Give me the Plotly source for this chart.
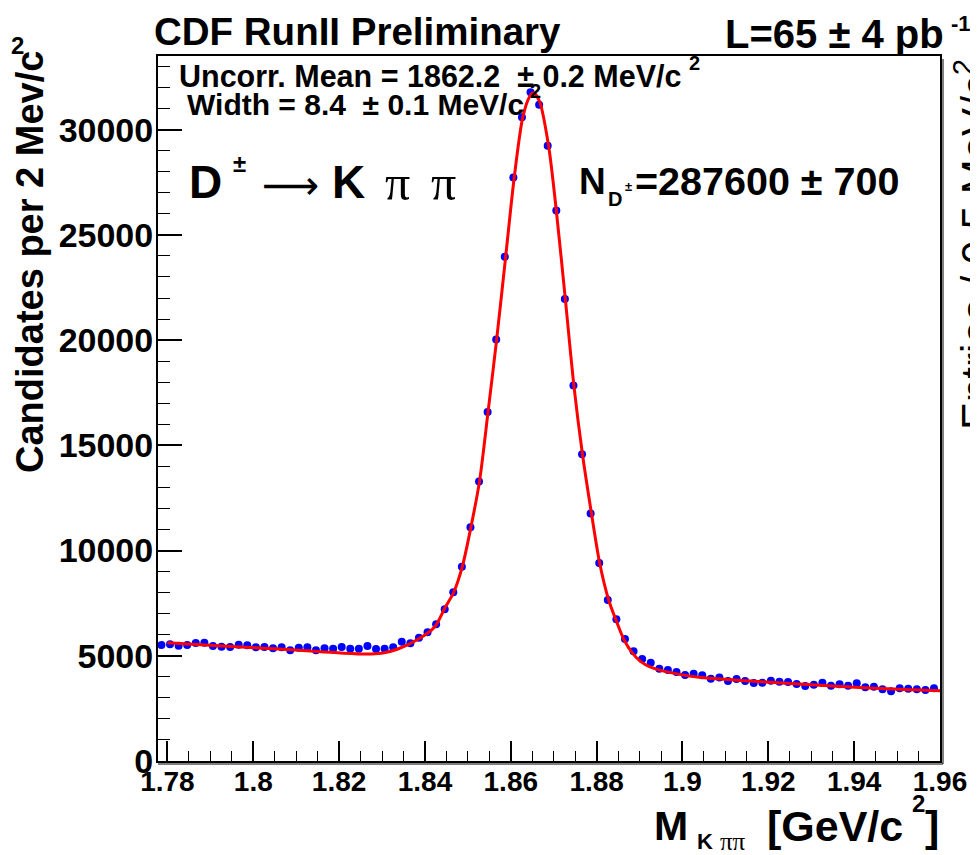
import plotly.graph_objects as go

# ---------------- data ----------------
bin_start = 1.7786
bin_width = 0.002
counts = [5513, 5545, 5482, 5513, 5609, 5624, 5466, 5434, 5418, 5529,
          5497, 5402, 5418, 5355, 5402, 5260, 5387, 5402, 5260, 5355,
          5339, 5418, 5339, 5339, 5466, 5323, 5339, 5402, 5672, 5593,
          5862, 6115, 6496, 7210, 8018, 9236, 11106, 13276, 16588, 20025,
          23955, 27726, 30594, 31782, 31180, 29231, 26157, 21959, 17840, 14576,
          11756, 9411, 7652, 6734, 5799, 5212, 4848, 4674, 4388, 4325,
          4230, 4088, 4151, 4072, 3914, 3962, 3802, 3897, 3802, 3707,
          3723, 3818, 3770, 3755, 3660, 3565, 3628, 3723, 3581, 3644,
          3581, 3692, 3502, 3533, 3407, 3311, 3454, 3438, 3407, 3375,
          3454]
mass = [round(bin_start + bin_width * i, 4) for i in range(len(counts))]

fit_x = [1.7800, 1.7888, 1.8004, 1.8159, 1.8252, 1.8299, 1.8337, 1.8384, 1.8423,
         1.8446, 1.8467, 1.8487, 1.8507, 1.8527, 1.8547, 1.8567, 1.8588, 1.8608,
         1.8628, 1.8644, 1.8653, 1.8667, 1.8688, 1.8706, 1.8727, 1.8747, 1.8767,
         1.8788, 1.8807, 1.8828, 1.8845, 1.8864, 1.8884, 1.8903, 1.8923, 1.8961,
         1.9039, 1.9194, 1.9349, 1.9504, 1.9600]
fit_y = [5620, 5513, 5387, 5197, 5086, 5118, 5323, 5784, 6384,
         7258, 8018, 9236, 11106, 13276, 16588, 20025, 23955, 27726,
         30594, 31575, 31750, 31337, 29231, 26157, 21959, 17840, 14576,
         11756, 9411, 7652, 6702, 5751, 5117, 4721, 4484, 4246,
         3977, 3755, 3565, 3407, 3340]

x_tick_vals = [1.78, 1.80, 1.82, 1.84, 1.86, 1.88, 1.90, 1.92, 1.94, 1.96]
x_tick_text = ["1.78", "1.8", "1.82", "1.84", "1.86", "1.88", "1.9", "1.92", "1.94", "1.96"]
y_tick_vals = [0, 5000, 10000, 15000, 20000, 25000, 30000]
y_tick_text = ["0", "5000", "10000", "15000", "20000", "25000", "30000"]

# ---------------- layout geometry (page pixels) ----------------
PAGE_OFF = 8               # default body margin of the html page
W, H = 978 - PAGE_OFF, 855 - PAGE_OFF
L_, R_, T_, B_ = 158, 940, 56, 761


def px(xp):
    return (xp - L_) / (R_ - L_)


def py(yp):
    return (B_ - yp) / (B_ - T_)


SANS = "Liberation Sans, Arial, Helvetica, sans-serif"
SERIF = "Liberation Serif, Times New Roman, serif"
DJV = "DejaVu Sans, sans-serif"

fig = go.Figure()
fig.add_trace(go.Scatter(x=mass, y=counts, mode="markers",
                         marker=dict(color="#0000ff", size=8, line=dict(width=0)),
                         showlegend=False))
fig.add_trace(go.Scatter(x=fit_x, y=fit_y, mode="lines",
                         line=dict(color="#ff0000", width=3, shape="spline", smoothing=0.8),
                         showlegend=False))

ann = []


def add(text, x, y, size, xanchor="left", yanchor="middle", family=SANS, angle=0):
    ann.append(dict(text=text, x=px(x), y=py(y), xref="paper", yref="paper",
                    xanchor=xanchor, yanchor=yanchor, showarrow=False,
                    textangle=angle, font=dict(family=family, size=size, color="black")))


nb = "\u00a0"
add("<b>CDF RunII Preliminary</b>", 152, 31, 38.5)
add("<b>L=65 ± 4 pb</b>", 946, 34, 40, xanchor="right")
add("<b>-1</b>", 961, 24, 22, xanchor="center")
add("<b>Uncorr. Mean = 1862.2" + nb + nb + "± 0.2 MeV/c</b>", 177, 76, 30.5)
add("<b>2</b>", 694, 63, 20, xanchor="center")
add("<b>Width = 8.4" + nb + nb + "± 0.1 MeV/c</b>", 185, 104, 30)
add("<b>2</b>", 535, 91, 20, xanchor="center")

add("<b>D</b>", 187, 182, 46)
add("<b>±</b>", 239, 163, 24, xanchor="center")
add("⟶", 290, 185, 40, xanchor="center", family=DJV)
add("<b>K</b>", 330, 182, 46)
add("π", 397, 183, 50, xanchor="center", family=SERIF)
add("π", 443, 183, 50, xanchor="center", family=SERIF)

add("<b>N</b>", 577, 181, 37)
add("<b>D</b>", 615, 199, 20, xanchor="center")
add("<b>±</b>", 628, 186, 13, xanchor="center")
add("<b>=287600" + nb + "±" + nb + "700</b>", 633, 181, 39.5)

add("<b>M</b>", 652, 826, 41)
add("<b>K</b>", 705, 841, 22, xanchor="center")
add("ππ", 733, 841, 25, xanchor="center", family=SERIF)
add("<b>[GeV/c</b>", 765, 826, 43)
add("<b>2</b>", 918, 803, 24, xanchor="center")
add("<b>]</b>", 923, 826, 43)

add("<b>Candidates per 2 Mev/c</b>", 30, 262, 38, xanchor="center", angle=-90)
add("<b>2</b>", 17, 46, 24, xanchor="center")

add("Entries / 0.5 MeV/c<sup>2</sup>", 944, 245, 42, xanchor="left", angle=-90)

axis_common = dict(showgrid=False, zeroline=False, showline=True, linecolor="black",
                   linewidth=2, mirror=True, ticks="inside", tickcolor="black",
                   tickwidth=1.5)

# thin shadow lines under the frame (bottom and right), as in the ROOT canvas
shapes = [
    dict(type="line", xref="paper", yref="paper", x0=px(L_), x1=px(R_ + 3),
         y0=py(B_ + 3), y1=py(B_ + 3), line=dict(color="black", width=1)),
    dict(type="line", xref="paper", yref="paper", x0=px(R_ + 3), x1=px(R_ + 3),
         y0=py(B_ + 3), y1=py(T_ + 3), line=dict(color="black", width=1)),
]

fig.update_layout(
    width=W, height=H,
    margin=dict(l=L_ - PAGE_OFF, r=W - (R_ - PAGE_OFF), t=T_ - PAGE_OFF,
                b=H - (B_ - PAGE_OFF), pad=0),
    paper_bgcolor="white", plot_bgcolor="white",
    font=dict(family=SANS, color="black"),
    annotations=ann,
    shapes=shapes,
    xaxis=dict(range=[1.7778, 1.9600], tickmode="array", tickvals=x_tick_vals,
               ticktext=x_tick_text, ticklen=20, ticklabelstandoff=-6,
               tickfont=dict(family=SANS, size=28, weight="bold"),
               minor=dict(tickmode="linear", tick0=1.78, dtick=0.005, ticklen=10,
                          ticks="inside", tickcolor="black", tickwidth=1.2),
               **axis_common),
    yaxis=dict(range=[0, 33500], tickmode="array", tickvals=y_tick_vals,
               ticktext=y_tick_text, ticklen=24, ticklabelstandoff=-4,
               tickfont=dict(family=SANS, size=34, weight="bold"),
               minor=dict(tickmode="linear", tick0=0, dtick=1000, ticklen=12,
                          ticks="inside", tickcolor="black", tickwidth=1.2),
               **axis_common),
)

fig.write_html("out.html")
